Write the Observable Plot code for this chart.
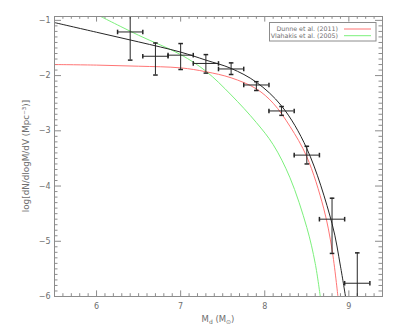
<!DOCTYPE html>
<html><head><meta charset="utf-8">
<script src="https://cdn.jsdelivr.net/npm/d3@7"></script>
<script src="https://cdn.jsdelivr.net/npm/@observablehq/plot@0.6"></script>
<style>body{margin:0;background:#fff;}</style>
</head><body><div id="chart"></div>
<script>
// Data points (bins of dust mass)
const massBins = [6.4, 6.7, 7.0, 7.3, 7.6, 7.9, 8.2, 8.5, 8.8, 9.1];
const logPhi   = [-1.21, -1.65, -1.63, -1.78, -1.88, -2.17, -2.64, -3.44, -4.60, -5.76];
const phiHigh  = [-0.92, -1.41, -1.42, -1.62, -1.77, -2.11, -2.56, -3.28, -4.22, -5.21];
const phiLow   = [-1.72, -1.99, -1.89, -1.955, -1.98, -2.27, -2.72, -3.60, -5.22, -6.30];
const binHalf  = [0.15, 0.15, 0.15, 0.15, 0.15, 0.15, 0.15, 0.15, 0.15, 0.15];

// Curves
const fitX = [5.5, 6.0, 6.5, 7.0, 7.3, 7.6, 7.9, 8.2, 8.5, 8.8, 8.9, 8.96];
const fitY = [-1.04, -1.215, -1.39, -1.575, -1.72, -1.87, -2.12, -2.55, -3.32, -4.68, -5.45, -6.0];
const dunneX = [5.5, 6.0, 6.5, 7.0, 7.3, 7.6, 7.9, 8.1, 8.3, 8.5, 8.7, 8.8, 8.87];
const dunneY = [-1.80, -1.81, -1.83, -1.86, -1.93, -2.04, -2.24, -2.50, -2.92, -3.47, -4.40, -5.15, -6.0];
const vlahX = [6.05, 6.5, 7.0, 7.3, 7.6, 7.9, 8.1, 8.3, 8.5, 8.6, 8.66];
const vlahY = [-0.93, -1.27, -1.62, -1.92, -2.35, -2.85, -3.25, -3.85, -4.75, -5.4, -6.0];

const xTicks = [6, 7, 8, 9];
const yTicks = [-1, -2, -3, -4, -5, -6];
const legendLabels = ["Dunne et al. (2011)", "Vlahakis et al. (2005)"];
const xLabel = ["M", "d", " (M", "\u2299", ")"];
const yLabel = "log[dN/dlogM/dV (Mpc\u207B\u00B3)]";

const xDom = [5.5, 9.4], yDom = [-6, -0.93];
const gray = "#8c8c8c", txt = "#6e6e6e";
const ink = "#262626";
const red = "#ff7575", green = "#7cf07c";

const xMinor = d3.range(56, 94).map(d => d / 10).filter(d => !xTicks.includes(Math.round(d*10)/10));
const yMinor = d3.range(-59, -9).map(d => d / 10).filter(d => !yTicks.includes(Math.round(d*10)/10));

// tick lengths converted to data units (plot area 328 x 280 px)
const pxX = (xDom[1]-xDom[0]) / 328, pxY = (yDom[1]-yDom[0]) / 280;

const hCap = {draw(ctx, size){ const r = Math.sqrt(size/Math.PI); ctx.moveTo(-r,0); ctx.lineTo(r,0);} };
const vCap = {draw(ctx, size){ const r = Math.sqrt(size/Math.PI); ctx.moveTo(0,-r); ctx.lineTo(0,r);} };

const pts = massBins.map((m, i) => ({m, y: logPhi[i], hi: phiHigh[i], lo: phiLow[i], x1: m - binHalf[i], x2: m + binHalf[i]}));
const fmt = d => (d < 0 ? "\u2212" : "") + Math.abs(d);

const chart = Plot.plot({
  width: 399, height: 332,
  marginLeft: 54, marginRight: 17, marginTop: 16, marginBottom: 36,
  style: {fontFamily: "DejaVu Sans", fontSize: "8px", color: txt, background: "#fff"},
  x: {domain: xDom},
  y: {domain: yDom},
  marks: [
    Plot.axisX(xTicks, {tickSize: 0, tickPadding: 7, label: null, tickFormat: fmt, fill: txt}),
    Plot.axisY(yTicks, {tickSize: 0, tickPadding: 4, label: null, tickFormat: fmt, fill: txt}),
    // inward ticks on all four sides
    Plot.ruleX(xTicks, {x: d => d, y1: yDom[0], y2: yDom[0] + 5.6*pxY, stroke: gray}),
    Plot.ruleX(xMinor, {x: d => d, y1: yDom[0], y2: yDom[0] + 2.8*pxY, stroke: gray}),
    Plot.ruleX(xTicks, {x: d => d, y1: yDom[1], y2: yDom[1] - 5.6*pxY, stroke: gray}),
    Plot.ruleX(xMinor, {x: d => d, y1: yDom[1], y2: yDom[1] - 2.8*pxY, stroke: gray}),
    Plot.ruleY(yTicks, {y: d => d, x1: xDom[0], x2: xDom[0] + 7*pxX, stroke: gray}),
    Plot.ruleY(yMinor, {y: d => d, x1: xDom[0], x2: xDom[0] + 3.5*pxX, stroke: gray}),
    Plot.ruleY(yTicks, {y: d => d, x1: xDom[1], x2: xDom[1] - 7*pxX, stroke: gray}),
    Plot.ruleY(yMinor, {y: d => d, x1: xDom[1], x2: xDom[1] - 3.5*pxX, stroke: gray}),
    Plot.line(vlahY, {x: vlahX, y: vlahY, curve: "catmull-rom", stroke: green, strokeWidth: 1, clip: true}),
    Plot.line(dunneY, {x: dunneX, y: dunneY, curve: "catmull-rom", stroke: red, strokeWidth: 1, clip: true}),
    Plot.line(fitY, {x: fitX, y: fitY, curve: "catmull-rom", stroke: ink, strokeWidth: 1, clip: true}),
    Plot.ruleY(pts, {y: "y", x1: "x1", x2: "x2", stroke: ink, clip: true}),
    Plot.ruleX(pts, {x: "m", y1: "lo", y2: "hi", stroke: ink, clip: true}),
    Plot.dot(pts, {x: "m", y: "hi", symbol: hCap, r: 2.3, stroke: ink, fill: "none", clip: true}),
    Plot.dot(pts, {x: "m", y: "lo", symbol: hCap, r: 2.3, stroke: ink, fill: "none", clip: true}),
    Plot.dot(pts, {x: "x1", y: "y", symbol: vCap, r: 2.3, stroke: ink, fill: "none", clip: true}),
    Plot.dot(pts, {x: "x2", y: "y", symbol: vCap, r: 2.3, stroke: ink, fill: "none", clip: true}),
    Plot.frame({stroke: gray})
  ]
});
document.getElementById("chart").appendChild(chart);

// Legend and axis titles
const svg = d3.select(chart);
const lg = svg.append("g");
lg.append("rect").attr("x", 269.5).attr("y", 22.5).attr("width", 106.5).attr("height", 18.5)
  .attr("fill", "#fff").attr("stroke", gray);
[red, green].forEach((c, i) => {
  const yy = 29 + i * 6.7;
  lg.append("text").attr("x", 338).attr("y", yy).attr("dy", "0.35em").attr("text-anchor", "end")
    .attr("font-family", "DejaVu Sans").attr("font-size", "6.3px").attr("fill", txt).text(legendLabels[i]);
  lg.append("line").attr("x1", 344).attr("x2", 371).attr("y1", yy).attr("y2", yy).attr("stroke", c);
});
const xl = svg.append("text").attr("x", 218).attr("y", 322).attr("text-anchor", "middle")
  .attr("font-family", "DejaVu Sans").attr("font-size", "8.5px").attr("fill", txt);
xl.append("tspan").text(xLabel[0]);
xl.append("tspan").attr("font-size", "6px").attr("dy", "1.5").text(xLabel[1]);
xl.append("tspan").attr("dy", "-1.5").text(xLabel[2]);
xl.append("tspan").attr("font-size", "6px").attr("dy", "1.5").text(xLabel[3]);
xl.append("tspan").attr("dy", "-1.5").text(xLabel[4]);
svg.append("text").attr("transform", "translate(26,156) rotate(-90)").attr("text-anchor", "middle")
  .attr("dy", "0.35em").attr("font-family", "DejaVu Sans").attr("font-size", "8.8px").attr("fill", txt).text(yLabel);
</script>
</body></html>
